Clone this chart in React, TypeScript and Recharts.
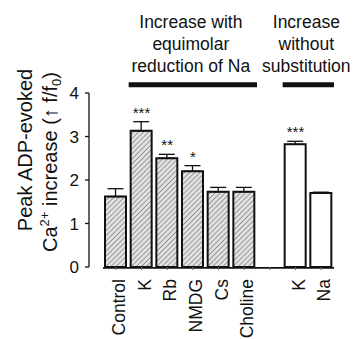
import {
  Bar,
  Cell,
  ComposedChart,
  ErrorBar,
  LabelList,
  Line,
  ReferenceArea,
  XAxis,
  YAxis,
} from "recharts";

const categories = ["Control", "K", "Rb", "NMDG", "Cs", "Choline", "", "K", "Na"];
const means = [1.62, 3.13, 2.5, 2.2, 1.73, 1.73, null, 2.82, 1.7];
const errors = [0.18, 0.21, 0.09, 0.13, 0.1, 0.1, null, 0.07, 0.02];
const stars = ["", "***", "**", "*", "", "", "", "***", ""];
const hatched = [true, true, true, true, true, true, false, false, false];
const yTicks = [0, 1, 2, 3, 4];

const groupA = ["Increase with", "equimolar", "reduction of Na"];
const groupB = ["Increase", "without", "substitution"];

const data = categories.map((name, i) => ({
  key: `c${i}`,
  name,
  mean: means[i],
  err: errors[i] == null ? null : [0, errors[i]],
  top: means[i] == null ? null : (means[i] as number) + (errors[i] as number),
  sig: stars[i],
}));

const FONT = "'Liberation Sans', Arial, sans-serif";
const INK = "#111";

function XTick({ x, y, payload }: any) {
  const label = categories[payload.index] ?? "";
  return (
    <text
      x={x + 9}
      y={y + 7}
      transform={`rotate(-90, ${x + 9}, ${y + 7})`}
      textAnchor="end"
      fontSize={17.5}
      fontFamily={FONT}
      fill={INK}
    >
      {label}
    </text>
  );
}

function GroupTitle(lines: string[]) {
  return ({ viewBox }: any) => {
    const cx = viewBox.x + viewBox.width / 2 - 2;
    const y0 = viewBox.y;
    return (
      <g>
        {lines.map((t, i) => (
          <text
            key={i}
            x={cx}
            y={y0 - 54 + i * 22}
            textAnchor="middle"
            fontSize={17.5}
            fontFamily={FONT}
            fill={INK}
          >
            {t}
          </text>
        ))}
      </g>
    );
  };
}

function YLabel() {
  return (
    <g fontFamily={FONT} fill={INK}>
      <text x={32} y={150} transform="rotate(-90, 32, 150)" textAnchor="middle" fontSize={20}>
        Peak ADP-evoked
      </text>
      <text x={57} y={162} transform="rotate(-90, 57, 162)" textAnchor="middle" fontSize={20}>
        Ca
        <tspan fontSize={13} dy={-8}>2+</tspan>
        <tspan dy={8}> increase (↑ f/f</tspan>
        <tspan fontSize={13} dy={4}>0</tspan>
        <tspan dy={-4}>)</tspan>
      </text>
    </g>
  );
}

function Stars({ x, y, value }: any) {
  if (!value) return null;
  return (
    <text x={x} y={y - 4} textAnchor="middle" fontSize={15} fontFamily={FONT} fill={INK}>
      {value}
    </text>
  );
}

export default function App() {
  return (
    <div style={{ width: 359, height: 339, background: "#fff" }}>
      <style>{`body{margin:0}`}</style>
      <ComposedChart
        width={359}
        height={339}
        data={data}
        margin={{ top: 93, right: 25, left: 0, bottom: 0 }}
      >
        <defs>
          <pattern
            id="hatch"
            patternUnits="userSpaceOnUse"
            width={3.6}
            height={3.6}
            patternTransform="rotate(45)"
          >
            <rect width={3.6} height={3.6} fill="#e2e2e2" />
            <line x1={0} y1={0} x2={0} y2={3.6} stroke="#7a7a7a" strokeWidth={1.4} />
          </pattern>
        </defs>
        <XAxis
          dataKey="key"
          axisLine={false}
          tickLine={{ stroke: "#666", strokeWidth: 1 }}
          tickSize={3}
          tickMargin={2}
          height={72}
          interval={0}
          padding={{ left: 14, right: 0 }}
          tick={<XTick />}
        />
        <YAxis
          domain={[0, 4]}
          ticks={yTicks}
          width={89}
          axisLine={{ stroke: INK, strokeWidth: 1.3 }}
          tickLine={{ stroke: INK, strokeWidth: 1.3 }}
          tickSize={4}
          tickMargin={6}
          tick={{ fill: INK, fontSize: 17, fontFamily: FONT }}
          label={{ content: () => <YLabel /> }}
        />
        <ReferenceArea
          x1="c0"
          x2="c8"
          y1={0}
          y2={-0.04}
          fill={INK}
          fillOpacity={1}
          stroke="none"
          ifOverflow="visible"
        />
        <ReferenceArea
          x1="c1"
          x2="c5"
          y1={4.25}
          y2={4.13}
          fill={INK}
          fillOpacity={1}
          stroke="none"
          ifOverflow="visible"
          label={{ content: GroupTitle(groupA) }}
        />
        <ReferenceArea
          x1="c7"
          x2="c8"
          y1={4.25}
          y2={4.13}
          fill={INK}
          fillOpacity={1}
          stroke="none"
          ifOverflow="visible"
          label={{ content: GroupTitle(groupB) }}
        />
        <Bar
          dataKey="mean"
          barSize={21}
          stroke={INK}
          strokeWidth={2}
          isAnimationActive={false}
        >
          {data.map((d, i) => (
            <Cell key={d.key} fill={hatched[i] ? "url(#hatch)" : "#fff"} />
          ))}
          <ErrorBar dataKey="err" width={8} stroke={INK} strokeWidth={1.3} />
        </Bar>
        <Line
          dataKey="top"
          stroke="none"
          dot={false}
          activeDot={false}
          isAnimationActive={false}
        >
          <LabelList dataKey="sig" content={<Stars />} />
        </Line>
      </ComposedChart>
    </div>
  );
}
